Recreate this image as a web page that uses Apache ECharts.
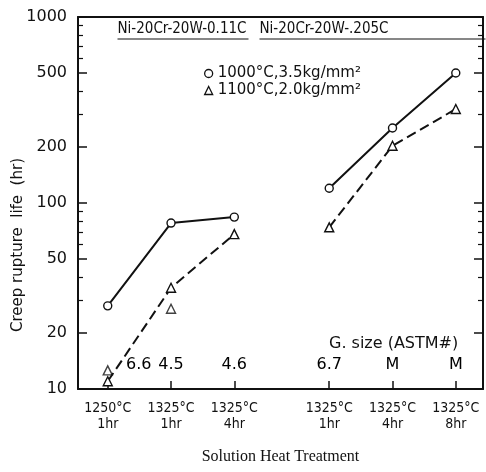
<!DOCTYPE html>
<html>
<head>
<meta charset="utf-8">
<script src="https://cdn.jsdelivr.net/npm/echarts@6/dist/echarts.min.js"></script>
<style>
  html, body { margin: 0; padding: 0; background: #fff; }
  #chart { width: 486px; height: 472px; }
</style>
</head>
<body>
<div id="chart"></div>
<script>
// treatment positions on the x scale (gap between the two alloys)
const xPos = [0, 1, 2, 3.5, 4.5, 5.5];
const xTemps = ["1250°C", "1325°C", "1325°C", "1325°C", "1325°C", "1325°C"];
const xTimes = ["1hr", "1hr", "4hr", "1hr", "4hr", "8hr"];
const grainSize = ["6.6", "4.5", "4.6", "6.7", "M", "M"];

// creep rupture life (hr)
const circA = [28, 78, 84];       // 0.11C, 1000°C
const circB = [120, 253, 500];    // .205C, 1000°C
const triA = [11, 35, 68];        // 0.11C, 1100°C (connected)
const triAExtra = [12.6, 27];     // 0.11C, 1100°C (second specimens)
const triB = [74, 203, 320];      // .205C, 1100°C

const yMajor = [10, 20, 50, 100, 200, 500, 1000];
const yMinor = [30, 40, 60, 70, 80, 90, 300, 400, 600, 700, 800, 900];

const nameC = "1000°C,3.5kg/mm²";
const nameT = "1100°C,2.0kg/mm²";

const pairs = (xs, ys) => ys.map((v, i) => [xs[i], v]);

const chart = echarts.init(document.getElementById("chart"));
const font = "'Liberation Sans Narrow', 'DejaVu Sans Condensed', 'Liberation Sans', sans-serif";
const wide = "'DejaVu Sans', sans-serif";

const markStyle = { color: "#fff", borderColor: "#111", borderWidth: 1.4 };
const solidLine = { color: "#111", width: 2, type: "solid" };
const dashLine = { color: "#111", width: 2, type: [10, 5] };
const axisLineStyle = { onZero: false, lineStyle: { color: "#111", width: 2 } };

chart.setOption({
  animation: false,
  backgroundColor: "#fff",
  textStyle: { fontFamily: font, color: "#111" },
  grid: { left: 78, right: 3, top: 17, bottom: 83, outerBoundsMode: "none", containLabel: false },
  legend: {
    orient: "vertical",
    left: 199,
    top: 61,
    itemGap: 2,
    itemWidth: 8,
    itemHeight: 8,
    textStyle: { fontSize: 15, color: "#111", fontFamily: wide },
    itemStyle: { color: "#fff", borderColor: "#111", borderWidth: 1.3 },
    data: [
      { name: nameC, icon: "circle" },
      { name: nameT, icon: "triangle" }
    ]
  },
  xAxis: [
    {
      type: "value",
      min: -0.47,
      max: 5.93,
      splitLine: { show: false },
      axisLine: axisLineStyle,
      axisTick: { inside: true, length: 8, customValues: xPos, lineStyle: { color: "#111", width: 1.5 } },
      axisLabel: {
        customValues: xPos,
        margin: 11,
        fontSize: 14,
        lineHeight: 16,
        color: "#111",
        formatter: (v) => {
          const i = xPos.indexOf(v);
          return i < 0 ? "" : xTemps[i] + "\n" + xTimes[i];
        }
      },
      name: "Solution Heat Treatment",
      nameLocation: "middle",
      nameGap: 60,
      nameTextStyle: { fontFamily: "'Liberation Serif', 'DejaVu Serif', serif", fontSize: 16, color: "#111" }
    },
    {
      type: "value",
      position: "top",
      min: -0.47,
      max: 5.93,
      axisLine: axisLineStyle,
      axisTick: { show: false },
      axisLabel: { show: false },
      splitLine: { show: false }
    }
  ],
  yAxis: [
    {
      type: "log",
      logBase: 10,
      min: 10,
      max: 1000,
      splitLine: { show: false },
      axisLine: axisLineStyle,
      axisTick: { inside: true, length: 9, customValues: yMajor, lineStyle: { color: "#111", width: 1.5 } },
      axisLabel: {
        customValues: yMajor,
        fontSize: 16,
        margin: 11,
        color: "#111",
        fontFamily: wide,
        formatter: (v) => String(v)
      }
    },
    {
      type: "log",
      logBase: 10,
      min: 10,
      max: 1000,
      position: "left",
      splitLine: { show: false },
      axisLine: { show: false, onZero: false },
      axisTick: { inside: true, length: 5, customValues: yMinor, lineStyle: { color: "#111", width: 1.2 } },
      axisLabel: { show: false }
    },
    {
      type: "log",
      logBase: 10,
      min: 10,
      max: 1000,
      position: "right",
      splitLine: { show: false },
      axisLine: axisLineStyle,
      axisTick: { inside: true, length: 9, customValues: yMajor, lineStyle: { color: "#111", width: 1.5 } },
      axisLabel: { show: false }
    },
    {
      type: "log",
      logBase: 10,
      min: 10,
      max: 1000,
      position: "right",
      splitLine: { show: false },
      axisLine: { show: false, onZero: false },
      axisTick: { inside: true, length: 5, customValues: yMinor, lineStyle: { color: "#111", width: 1.2 } },
      axisLabel: { show: false }
    }
  ],
  series: [
    {
      name: nameC, type: "line", data: pairs(xPos.slice(0, 3), circA),
      symbol: "circle", symbolSize: 8, itemStyle: markStyle, lineStyle: solidLine
    },
    {
      name: nameC, type: "line", data: pairs(xPos.slice(3), circB),
      symbol: "circle", symbolSize: 8, itemStyle: markStyle, lineStyle: solidLine
    },
    {
      name: nameT, type: "line", data: pairs(xPos.slice(0, 3), triA),
      symbol: "triangle", symbolSize: 9, itemStyle: markStyle, lineStyle: dashLine
    },
    {
      name: nameT, type: "scatter", data: pairs(xPos.slice(0, 2), triAExtra),
      symbol: "triangle", symbolSize: 9, itemStyle: markStyle
    },
    {
      name: nameT, type: "line", data: pairs(xPos.slice(3), triB),
      symbol: "triangle", symbolSize: 9, itemStyle: markStyle, lineStyle: dashLine
    },
    {
      // grain size annotations above the x axis
      type: "scatter",
      silent: true,
      symbolSize: 0,
      itemStyle: { color: "#111", opacity: 1 },
      data: xPos.map((x, i) => ({ value: [x, 13.5], name: grainSize[i] })),
      label: {
        show: true,
        position: "inside",
        fontSize: 16,
        color: "#000",
        textBorderWidth: 0,
        fontFamily: wide,
        formatter: (p) => p.name
      },
      labelLayout: (p) => (p.dataIndex === 0 ? { dx: 31 } : {})
    }
  ],
  graphic: [
    {
      // y axis title, sits a little below the axis middle in the original
      type: "text",
      x: 18,
      y: 245,
      rotation: Math.PI / 2,
      style: {
        text: "Creep rupture  life  (hr)",
        font: "15px " + wide,
        fill: "#111",
        align: "center",
        verticalAlign: "middle"
      }
    },
    {
      type: "group",
      left: 115,
      top: 22,
      children: [
        { type: "text", style: { text: "Ni-20Cr-20W-0.11C", font: "15px " + font, fill: "#111" } },
        { type: "line", shape: { x1: 0, y1: 17, x2: 131, y2: 17 }, style: { stroke: "#111", lineWidth: 1.2 } }
      ]
    },
    {
      type: "group",
      left: 257,
      top: 22,
      children: [
        { type: "text", style: { text: "Ni-20Cr-20W-.205C", font: "15px " + font, fill: "#111" } },
        { type: "line", shape: { x1: 0, y1: 17, x2: 226, y2: 17 }, style: { stroke: "#111", lineWidth: 1.2 } }
      ]
    },
    {
      type: "text",
      left: 329,
      top: 336,
      style: { text: "G. size (ASTM#)", font: "16px " + wide, fill: "#111" }
    }
  ]
});
</script>
</body>
</html>
